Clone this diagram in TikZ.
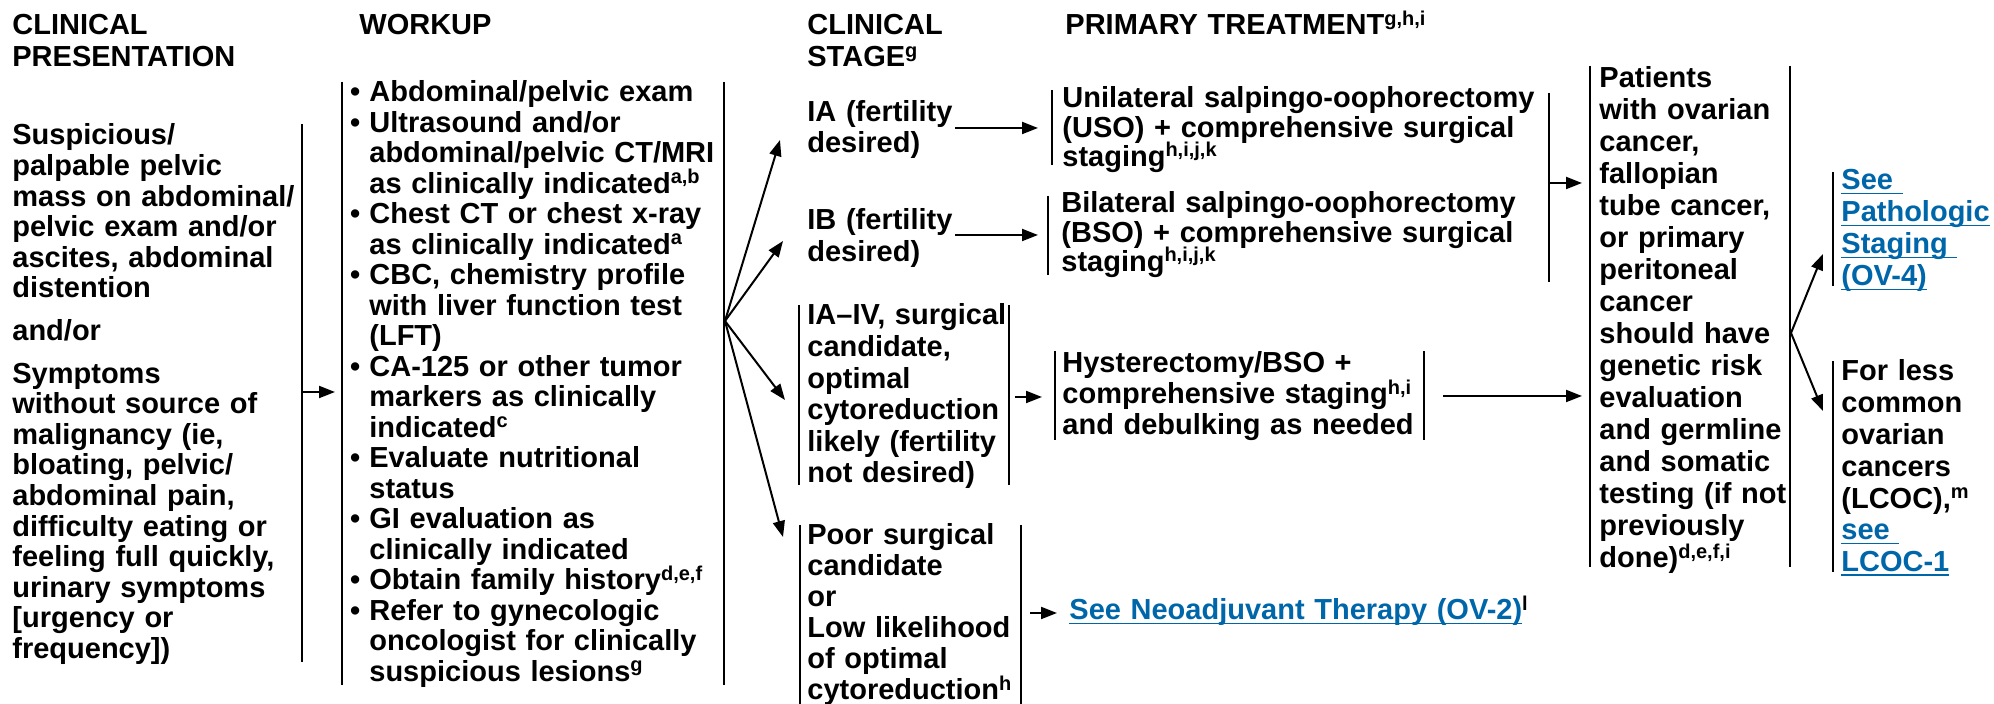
\documentclass[tikz,border=0pt]{standalone}
\usepackage{fontspec}
\setmainfont{Liberation Sans}
\usepackage{xcolor}
\usetikzlibrary{arrows.meta, positioning}
\definecolor{linkblue}{RGB}{0, 102, 170}

\newcommand{\fnote}[1]{\smash{\raisebox{4.8pt}{\fontsize{10}{10}\selectfont #1}}}
\newcommand{\bul}{\leavevmode\llap{\textbullet\hspace{4.5pt}}}
\newsavebox{\lnkbox}
\newcommand{\lnk}[1]{\leavevmode\sbox{\lnkbox}{\color{linkblue}#1}\rlap{\color{linkblue}\rule[-2.2pt]{\wd\lnkbox}{0.9pt}}\usebox{\lnkbox}}

\tikzset{
  txt/.style={anchor=base west, inner sep=0pt, align=left, text width=300pt,
    font=\fontsize{14.5}{#1}\selectfont\bfseries},
  txt/.default=15.3pt,
  bar/.style={line width=1pt},
  arr/.style={line width=1pt, -{Triangle[length=8pt, width=6pt]}},
}

\begin{document}
\begin{tikzpicture}[x=0.5pt, y=-0.5pt]
  \useasboundingbox (0,0) rectangle (1994,704);

  % Column headings
  \node[txt=16pt] (hpres) at (12,35) {CLINICAL\\PRESENTATION};
  \node[txt] (hwork) at (359,35) {WORKUP};
  \node[txt=16pt] (hstage) at (807,35) {CLINICAL\\STAGE\fnote{g}};
  \node[txt] (htreat) at (1065,35) {PRIMARY TREATMENT\fnote{g,h,i}};

  % Clinical presentation
  \node[txt] (pres) at (12,145) {Suspicious/\\palpable pelvic\\mass on abdominal/\\pelvic exam and/or\\ascites, abdominal\\distention\\[6pt]and/or\\[6pt]Symptoms\\without source of\\malignancy (ie,\\bloating, pelvic/\\abdominal pain,\\difficulty eating or\\feeling full quickly,\\urinary symptoms\\{[}urgency or\\frequency])};

  % Workup
  \node[txt=15.25pt] (work) at (369,102) {%
    \bul Abdominal/pelvic exam\\
    \bul Ultrasound and/or\\abdominal/pelvic CT/MRI\\as clinically indicated\fnote{a,b}\\
    \bul Chest CT or chest x-ray\\as clinically indicated\fnote{a}\\
    \bul CBC, chemistry profile\\with liver function test\\(LFT)\\
    \bul CA-125 or other tumor\\markers as clinically\\indicated\fnote{c}\\
    \bul Evaluate nutritional\\status\\
    \bul GI evaluation as\\clinically indicated\\
    \bul Obtain family history\fnote{d,e,f}\\
    \bul Refer to gynecologic\\oncologist for clinically\\suspicious lesions\fnote{g}};

  % Clinical stage
  \node[txt=15.5pt] (ia) at (807,122) {IA (fertility\\desired)};
  \node[txt=15.8pt] (ib) at (807,230) {IB (fertility\\desired)};
  \node[txt=15.8pt] (iaiv) at (807,325) {IA--IV, surgical\\candidate,\\optimal\\cytoreduction\\likely (fertility\\not desired)};
  \node[txt=15.5pt] (poor) at (807,545) {Poor surgical\\candidate\\or\\Low likelihood\\of optimal\\cytoreduction\fnote{h}};

  % Primary treatment
  \node[txt=14.6pt] (uso) at (1062,108) {Unilateral salpingo-oophorectomy\\(USO) + comprehensive surgical\\staging\fnote{h,i,j,k}};
  \node[txt=14.6pt] (bso) at (1061,213) {Bilateral salpingo-oophorectomy\\(BSO) + comprehensive surgical\\staging\fnote{h,i,j,k}};
  \node[txt=15.5pt] (hyst) at (1062,373) {Hysterectomy/BSO +\\comprehensive staging\fnote{h,i}\\and debulking as needed};
  \node[txt] (neo) at (1069,620) {\lnk{See Neoadjuvant Therapy (OV-2)}\fnote{l}};

  % Genetic testing and follow-up
  \node[txt=16pt] (pat) at (1599,88) {Patients\\with ovarian\\cancer,\\fallopian\\tube cancer,\\or primary\\peritoneal\\cancer\\should have\\genetic risk\\evaluation\\and germline\\and somatic\\testing (if not\\previously\\done)\fnote{d,e,f,i}};
  \node[txt=16pt] (path) at (1841,190) {\lnk{See\ }\\\lnk{Pathologic}\\\lnk{Staging\ }\\\lnk{(OV-4)}};
  \node[txt=15.9pt] (lcoc) at (1841,381) {For less\\common\\ovarian\\cancers\\(LCOC),\fnote{m}\\\lnk{see\ }\\\lnk{LCOC-1}};

  % Brackets
  \foreach \x/\ya/\yb in {302/124/662, 342/82/685, 724/82/685, 799/305/485, 1009/305/485,
      800/525/710, 1021/525/710, 1052/90/165, 1048/196/275, 1055/351/440, 1424/351/440,
      1549/93/282, 1590/66/567, 1790/66/567, 1833/172/286, 1833/361/572}
    \draw[bar] (\x,\ya) -- (\x,\yb);

  % Connector ends
  \coordinate (presout) at (302,392);
  \coordinate (workin) at (335,392);
  \coordinate (fanwork) at (725,321);
  \coordinate (iatip) at (780,140);
  \coordinate (ibtip) at (783,241);
  \coordinate (iaivtip) at (785,400);
  \coordinate (poortip) at (783,537);
  \coordinate (iaout) at (955,128);
  \coordinate (usoin) at (1038,128);
  \coordinate (ibout) at (955,235);
  \coordinate (bsoin) at (1038,235);
  \coordinate (iaivout) at (1015,397);
  \coordinate (hystin) at (1042,397);
  \coordinate (poorout) at (1030,613);
  \coordinate (neoin) at (1057,613);
  \coordinate (surgout) at (1549,183);
  \coordinate (patin) at (1582,183);
  \coordinate (hystout) at (1443,396);
  \coordinate (patin2) at (1582,396);
  \coordinate (fanpat) at (1791,333);
  \coordinate (pathtip) at (1823,254);
  \coordinate (lcoctip) at (1823,411);

  % Connectors
  \draw[arr] (presout) -- (workin);
  \foreach \t in {iatip, ibtip, iaivtip, poortip}
    \draw[arr] (fanwork) -- (\t);
  \draw[arr] (iaout) -- (usoin);
  \draw[arr] (ibout) -- (bsoin);
  \draw[arr] (iaivout) -- (hystin);
  \draw[arr] (poorout) -- (neoin);
  \draw[arr] (surgout) -- (patin);
  \draw[arr] (hystout) -- (patin2);
  \draw[arr] (fanpat) -- (pathtip);
  \draw[arr] (fanpat) -- (lcoctip);
\end{tikzpicture}
\end{document}
